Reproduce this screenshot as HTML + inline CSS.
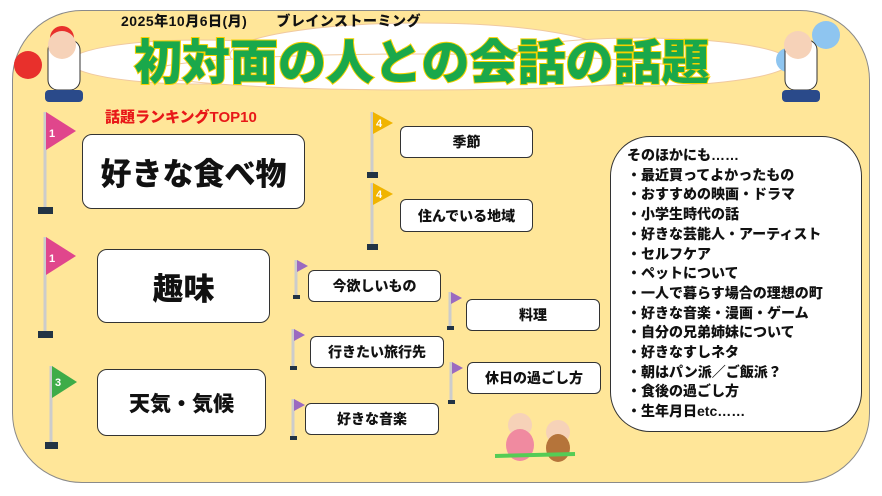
<!DOCTYPE html>
<html><head><meta charset="utf-8"><style>
*{margin:0;padding:0;box-sizing:border-box}
body{width:882px;height:496px;background:#fff;position:relative;overflow:hidden;font-family:"Liberation Sans","Noto Sans CJK JP",sans-serif;font-weight:bold}
.panel{position:absolute;left:12px;top:10px;width:858px;height:473px;background:#FFE699;border:1.5px solid #8a8a8a;border-radius:70px}
.b{position:absolute;background:#fff;border:1.5px solid #333;border-radius:10px;display:flex;align-items:center;justify-content:center;color:#111;font-weight:900}
.s{font-size:14px;border-radius:6px}
.t{position:absolute;white-space:nowrap}
svg{position:absolute;left:0;top:0}
</style></head><body>
<div class="panel"></div>
<svg width="882" height="496">
<g fill="#fff" stroke="#f0c9a0" stroke-width="1">
<ellipse cx="200" cy="62" rx="130" ry="22"/><ellipse cx="420" cy="55" rx="190" ry="32"/><ellipse cx="640" cy="62" rx="150" ry="24"/><ellipse cx="420" cy="72" rx="270" ry="18"/>
</g>
<g fill="#e8302c"><circle cx="28" cy="65" r="14"/><circle cx="62" cy="38" r="12"/></g>
<g fill="#8ec5f0"><circle cx="826" cy="35" r="14"/><circle cx="788" cy="60" r="12"/></g>
<g fill="#fff" stroke="#333"><rect x="48" y="40" width="32" height="50" rx="10"/><rect x="785" y="40" width="32" height="50" rx="10"/></g>
<g fill="#f6d2b8"><circle cx="62" cy="45" r="14"/><circle cx="798" cy="45" r="14"/><circle cx="520" cy="425" r="12"/><circle cx="558" cy="432" r="12"/></g>
<g fill="#2a4a8a"><rect x="45" y="90" width="38" height="12" rx="4"/><rect x="782" y="90" width="38" height="12" rx="4"/></g>
<g stroke="#ccc" stroke-width="3">
<line x1="45" y1="112" x2="45" y2="210"/><line x1="45" y1="237" x2="45" y2="334"/><line x1="51" y1="366" x2="51" y2="444"/>
<line x1="372" y1="112" x2="372" y2="172"/><line x1="372" y1="183" x2="372" y2="244"/>
<line x1="296" y1="260" x2="296" y2="297"/><line x1="293" y1="329" x2="293" y2="368"/><line x1="293" y1="399" x2="293" y2="438"/>
<line x1="450" y1="292" x2="450" y2="328"/><line x1="451" y1="362" x2="451" y2="402"/>
</g>
<g fill="#234"><rect x="38" y="207" width="15" height="7"/><rect x="38" y="331" width="15" height="7"/><rect x="45" y="442" width="13" height="7"/>
<rect x="367" y="172" width="11" height="6"/><rect x="367" y="244" width="11" height="6"/><rect x="293" y="295" width="7" height="4"/><rect x="290" y="366" width="7" height="4"/><rect x="290" y="436" width="7" height="4"/><rect x="447" y="326" width="7" height="4"/><rect x="448" y="400" width="7" height="4"/></g>
<g fill="#e0468c"><polygon points="46,112 76,131 46,150"/><polygon points="46,237 76,256 46,275"/></g>
<polygon points="52,366 77,382 52,398" fill="#3eac48"/>
<g fill="#f0b400"><polygon points="373,112 393,123 373,134"/><polygon points="373,183 393,194 373,205"/></g>
<g fill="#9b6ac0"><polygon points="297,260 308,266 297,272"/><polygon points="294,329 305,335 294,341"/><polygon points="294,399 305,405 294,411"/><polygon points="451,292 462,298 451,304"/><polygon points="452,362 463,368 452,374"/></g>
<g fill="#fff" font-size="11" font-weight="bold"><text x="49" y="137">1</text><text x="49" y="262">1</text><text x="55" y="386">3</text><text x="376" y="127">4</text><text x="376" y="198">4</text></g>
<g fill="#f08aa0"><ellipse cx="520" cy="445" rx="14" ry="16"/></g><g fill="#b5743a"><ellipse cx="558" cy="448" rx="12" ry="14"/></g>
<line x1="495" y1="456" x2="575" y2="454" stroke="#5c5" stroke-width="4"/>
</svg>
<div class="t" style="left:121px;top:11px;font-size:14px;color:#111;font-weight:900;letter-spacing:0.5px">2025年10月6日(月)　　ブレインストーミング</div>
<div class="t" style="left:134px;top:36px;font-size:48px;line-height:56px;color:#1aa84b;font-weight:900;-webkit-text-stroke:2px #f5d100;paint-order:stroke fill;letter-spacing:0px">初対面の人との会話の話題</div>
<div class="t" style="left:105px;top:106px;font-size:15px;color:#e81818;font-weight:900">話題ランキングTOP10</div>
<div class="b" style="left:82px;top:134px;width:223px;height:75px;font-size:31px">好きな食べ物</div>
<div class="b" style="left:97px;top:249px;width:173px;height:74px;font-size:31px">趣味</div>
<div class="b" style="left:97px;top:369px;width:169px;height:67px;font-size:21px">天気・気候</div>
<div class="b s" style="left:400px;top:126px;width:133px;height:32px">季節</div>
<div class="b s" style="left:400px;top:199px;width:133px;height:33px">住んでいる地域</div>
<div class="b s" style="left:308px;top:270px;width:133px;height:32px">今欲しいもの</div>
<div class="b s" style="left:466px;top:299px;width:134px;height:32px">料理</div>
<div class="b s" style="left:310px;top:336px;width:134px;height:32px">行きたい旅行先</div>
<div class="b s" style="left:467px;top:362px;width:134px;height:32px">休日の過ごし方</div>
<div class="b s" style="left:305px;top:403px;width:134px;height:32px">好きな音楽</div>
<div style="position:absolute;left:610px;top:136px;width:252px;height:296px;background:#fff;border:1.5px solid #333;border-radius:40px"></div>
<div class="t" style="left:627px;top:146px;font-size:14px;line-height:19.7px;color:#111;font-weight:900">そのほかにも……<br>・最近買ってよかったもの<br>・おすすめの映画・ドラマ<br>・小学生時代の話<br>・好きな芸能人・アーティスト<br>・セルフケア<br>・ペットについて<br>・一人で暮らす場合の理想の町<br>・好きな音楽・漫画・ゲーム<br>・自分の兄弟姉妹について<br>・好きなすしネタ<br>・朝はパン派／ご飯派？<br>・食後の過ごし方<br>・生年月日etc……</div>
</body></html>
